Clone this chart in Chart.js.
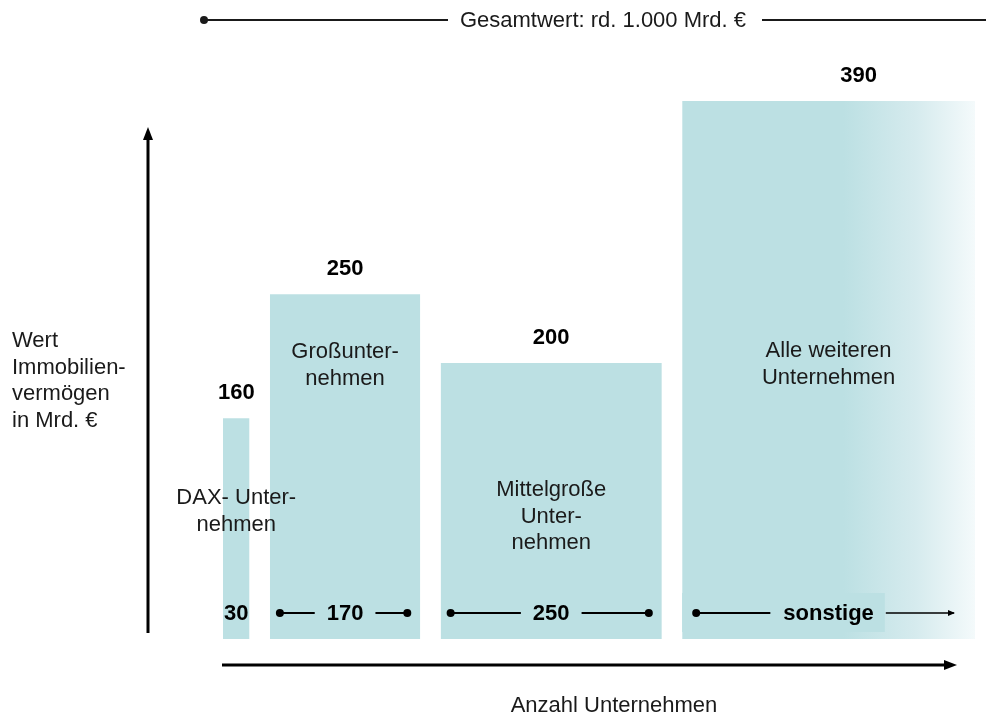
<!DOCTYPE html>
<html lang="de">
<head>
<meta charset="utf-8">
<title>Immobilienvermögen deutscher Unternehmen</title>
<script src="https://cdn.jsdelivr.net/npm/chart.js@4.4.1/dist/chart.umd.min.js"></script>
<style>
  html, body { margin: 0; padding: 0; background: #fff; }
  #wrap { width: 986px; height: 715px; position: relative; }
</style>
</head>
<body>
<div id="wrap"><canvas id="chart" width="986" height="715"></canvas></div>
<script>
// Kategorien (Beschriftung im Balken, zeilenweise)
const kategorien = [
    ['DAX- Unter-', 'nehmen'],
    ['Großunter-', 'nehmen'],
    ['Mittelgroße', 'Unter-', 'nehmen'],
    ['Alle weiteren', 'Unternehmen']
];
// Wert Immobilienvermögen in Mrd. €
const werte = [160, 250, 200, 390];
// Anzahl Unternehmen (null = offen, reicht bis ans Achsenende)
const anzahl = [30, 170, 250, null];
const anzahlText = ['30', '170', '250', 'sonstige'];

const gesamtText = 'Gesamtwert: rd. 1.000 Mrd. €';
const yTitel = ['Wert', 'Immobilien-', 'vermögen', 'in Mrd. €'];
const xTitel = 'Anzahl Unternehmen';

// Layout
const X_MAX = 850;
const LUECKE = 23;
const FARBE = '#bce0e3';
const SCHRIFT = '"Liberation Sans", Arial, sans-serif';
const TEXT = '#1a1a1a';

// Balkengrenzen auf der Anzahl-Achse
const grenzen = [];
let pos = 0;
anzahl.forEach(n => {
    const x0 = pos;
    const x1 = n === null ? X_MAX : x0 + n;
    grenzen.push([x0, x1]);
    pos = x1 + LUECKE;
});

// jedes Rechteck als gefüllter Linienzug
const datasets = werte.map((v, i) => {
    const [x0, x1] = grenzen[i];
    const offen = anzahl[i] === null;
    return {
        data: [{ x: x0, y: 0 }, { x: x0, y: v }, { x: x1, y: v }, { x: x1, y: 0 }],
        borderWidth: 0,
        borderColor: 'rgba(0,0,0,0)',
        pointRadius: 0,
        tension: 0,
        fill: 'origin',
        backgroundColor: offen ? (ctx => {
            const { chart } = ctx;
            const area = chart.chartArea;
            if (!area) return FARBE;
            const xs = chart.scales.x;
            const g = chart.ctx.createLinearGradient(xs.getPixelForValue(x0), 0, area.right, 0);
            g.addColorStop(0, FARBE);
            g.addColorStop(0.55, FARBE);
            g.addColorStop(0.8, '#d6ebee');
            g.addColorStop(1, '#f4fafb');
            return g;
        }) : FARBE
    };
});

function punkt(ctx, x, y, r) {
    ctx.beginPath();
    ctx.arc(x, y, r, 0, Math.PI * 2);
    ctx.fill();
}

function linie(ctx, x0, y0, x1, y1, w) {
    ctx.lineWidth = w;
    ctx.beginPath();
    ctx.moveTo(x0, y0);
    ctx.lineTo(x1, y1);
    ctx.stroke();
}

// Beschriftungen, Pfeile und Achsen
const beschriftung = {
    id: 'beschriftung',
    afterDatasetsDraw(chart) {
        const { ctx, chartArea: area, scales: { x: xs, y: ys } } = chart;
        ctx.save();
        ctx.fillStyle = TEXT;
        ctx.strokeStyle = TEXT;
        ctx.textBaseline = 'middle';

        // Gesamtwert oben
        ctx.font = '22px ' + SCHRIFT;
        ctx.textAlign = 'center';
        ctx.fillText(gesamtText, 603, 21);
        punkt(ctx, 204, 20, 4);
        linie(ctx, 204, 20, 448, 20, 2);
        linie(ctx, 762, 20, 986, 20, 2);

        // Achsentitel links
        ctx.textAlign = 'left';
        yTitel.forEach((t, i) => ctx.fillText(t, 12, 341 + i * 26.5));

        // Achsentitel unten
        ctx.textAlign = 'center';
        ctx.fillText(xTitel, 614, 706);

        // Achsenpfeile
        ctx.fillStyle = '#000';
        ctx.strokeStyle = '#000';
        linie(ctx, 148, area.bottom - 6, 148, 136, 3);
        ctx.beginPath();
        ctx.moveTo(148, 127); ctx.lineTo(143, 140); ctx.lineTo(153, 140); ctx.closePath(); ctx.fill();
        linie(ctx, area.left - 1, 665, area.right - 28, 665, 3);
        ctx.beginPath();
        ctx.moveTo(area.right - 18, 665); ctx.lineTo(area.right - 31, 660); ctx.lineTo(area.right - 31, 670); ctx.closePath(); ctx.fill();

        const innenY = [498, 352, 490, 351];
        const wertDx = [0, 0, 0, 30];
        const unten = area.bottom - 26;

        werte.forEach((v, i) => {
            const [x0, x1] = grenzen[i];
            const px0 = xs.getPixelForValue(x0);
            const px1 = xs.getPixelForValue(x1);
            const mitte = (px0 + px1) / 2;

            // Wert über dem Balken
            ctx.fillStyle = '#000';
            ctx.font = 'bold 22px ' + SCHRIFT;
            ctx.textAlign = 'center';
            ctx.fillText(String(v), mitte + wertDx[i], ys.getPixelForValue(v) - 25);

            // Kategorie im Balken
            ctx.fillStyle = TEXT;
            ctx.font = '22px ' + SCHRIFT;
            kategorien[i].forEach((t, j) => ctx.fillText(t, mitte, innenY[i] + j * 26.5));

            // Anzahl unten im Balken
            ctx.font = 'bold 22px ' + SCHRIFT;
            const label = anzahlText[i];
            const w = ctx.measureText(label).width;
            ctx.fillStyle = '#000';
            ctx.strokeStyle = '#000';
            if (anzahl[i] === null) {
                ctx.fillStyle = FARBE;
                ctx.fillRect(px0, area.bottom - 46, mitte + w / 2 + 11 - px0, 39);
                ctx.fillStyle = '#000';
                const l = px0 + 14;
                punkt(ctx, l, unten, 4);
                linie(ctx, l, unten, mitte - w / 2 - 13, unten, 2);
                const r = area.right - 21;
                linie(ctx, mitte + w / 2 + 12, unten, r, unten, 1.5);
                ctx.beginPath();
                ctx.moveTo(r + 1, unten); ctx.lineTo(r - 6, unten - 3); ctx.lineTo(r - 6, unten + 3); ctx.closePath(); ctx.fill();
            } else if (i > 0) {
                const l = px0 + 10;
                const r = px1 - 13;
                punkt(ctx, l, unten, 4);
                punkt(ctx, r, unten, 4);
                linie(ctx, l, unten, mitte - w / 2 - 12, unten, 2);
                linie(ctx, mitte + w / 2 + 12, unten, r, unten, 2);
            }
            ctx.fillText(label, mitte, unten + 1);
        });

        ctx.restore();
    }
};

new Chart(document.getElementById('chart'), {
    type: 'line',
    data: { datasets },
    options: {
        responsive: false,
        animation: false,
        events: [],
        layout: { padding: { left: 223, right: 11, top: 101, bottom: 76 } },
        plugins: {
            legend: { display: false },
            tooltip: { enabled: false }
        },
        scales: {
            x: { type: 'linear', min: 0, max: X_MAX, display: false },
            y: { type: 'linear', min: 0, max: 390, display: false }
        }
    },
    plugins: [beschriftung]
});
</script>
</body>
</html>
